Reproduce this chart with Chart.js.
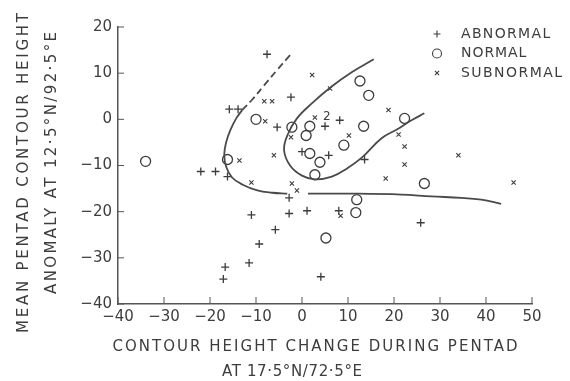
<!DOCTYPE html>
<html>
<head>
  <title>Contour height change vs anomaly</title>
  <script src="https://cdn.jsdelivr.net/npm/chart.js"></script>
  <style>
    body { margin: 0; background: #fff; }
  </style>
</head>
<body>
  <canvas id="myChart" width="570" height="381"></canvas>

  <script>
    // axis ranges (ticks every 10)
    const xMin = -40, xMax = 50;
    const yMin = -40, yMax = 20;

    // ABNORMAL (+)
    const abnormalX = [-7.6, -15.8, -13.9, -2.4, -5.4, 5.0, 8.2, 0.0, 5.8, 13.6, -22.0, -18.8, -16.2, -2.8, -11.0, -2.8, 1.1, 8.0, -5.8, -9.3, -11.5, -16.7, -17.1, 4.1, 25.8];
    const abnormalY = [14.1, 2.2, 2.2, 4.8, -1.7, -1.5, -0.2, -7.0, -7.8, -8.7, -11.3, -11.3, -12.4, -17.0, -20.7, -20.4, -19.8, -19.8, -23.9, -27.0, -31.1, -32.0, -34.6, -34.1, -22.4];

    // NORMAL (o)
    const normalX = [-34.0, -16.2, -10.0, -2.2, 1.7, 0.9, 9.1, 13.4, 12.6, 14.5, 22.3, 1.7, 3.9, 2.8, 11.9, 11.7, 5.2, 26.6];
    const normalY = [-9.1, -8.7, 0.0, -1.7, -1.5, -3.5, -5.6, -1.5, 8.3, 5.2, 0.2, -7.4, -9.3, -12.0, -17.4, -20.2, -25.7, -13.9];

    // SUBNORMAL (x)
    const subnormalX = [-8.2, -6.5, -8.0, 2.2, 6.1, 18.8, 2.8, 10.2, -2.4, 21.0, 22.3, -13.6, -6.1, -11.0, -2.2, -1.1, 18.2, 22.3, 34.0, 46.0, 8.4];
    const subnormalY = [3.9, 3.9, -0.4, 9.6, 6.7, 2.0, 0.4, -3.5, -3.9, -3.3, -5.9, -8.9, -7.8, -13.7, -13.9, -15.4, -12.8, -9.8, -7.8, -13.7, -20.9];

    // hand drawn boundary curves
    const uCurveX = [15.6, 10.8, 6.3, 2.2, -1.1, -3.2, -3.9, -2.6, 0.0, 2.8, 6.5, 9.7, 13.0, 17.3, 21.0, 23.8, 26.6];
    const uCurveY = [13.0, 10.2, 7.0, 3.5, 0.2, -3.5, -6.7, -10.0, -12.2, -13.0, -12.4, -10.7, -8.3, -4.1, -2.0, -0.2, 1.3];
    const dashCurveX = [-2.6, -5.4, -8.2, -10.8, -13.0];
    const dashCurveY = [13.9, 10.7, 7.4, 4.3, 2.0];
    const leftCurveX = [-13.0, -14.3, -15.6, -16.5, -16.9, -16.5, -15.2, -13.0, -9.7, -6.5, -3.2];
    const leftCurveY = [2.0, 0.2, -2.4, -5.0, -7.6, -10.2, -12.6, -14.1, -15.4, -15.9, -16.1];
    const tailCurveX = [1.3, 10.8, 21.6, 28.1, 34.6, 39.0, 43.3];
    const tailCurveY = [-16.1, -16.1, -16.3, -16.7, -17.0, -17.4, -18.3];

    // small count label in the middle of the cluster
    const countLabel = { text: '2', x: 5.4, y: 0.6 };

    const legendItems = [
      { label: 'ABNORMAL', style: 'cross' },
      { label: 'NORMAL', style: 'circle' },
      { label: 'SUBNORMAL', style: 'crossRot' }
    ];

    const ink = '#3d3d3d';
    const fontFamily = '"DejaVu Sans", sans-serif';

    function toPoints(xs, ys) {
      return xs.map((x, i) => ({ x: x, y: ys[i] }));
    }

    function curve(xs, ys, dash) {
      return {
        data: toPoints(xs, ys),
        showLine: true,
        borderColor: '#4a4a4a',
        borderWidth: 1.8,
        borderDash: dash || [],
        pointRadius: 0,
        tension: 0.4,
        fill: false
      };
    }

    function marks(xs, ys, style, radius, width) {
      return {
        data: toPoints(xs, ys),
        pointStyle: style,
        pointRadius: radius,
        pointBorderWidth: width,
        pointBorderColor: ink,
        pointBackgroundColor: 'rgba(0,0,0,0)',
        showLine: false
      };
    }

    // draw text stretched (by letter spacing) to a given width
    function spacedText(ctx, text, cx, cy, width, size, angle) {
      ctx.save();
      ctx.font = size + 'px ' + fontFamily;
      ctx.letterSpacing = '0px';
      const plain = ctx.measureText(text).width;
      const gap = Math.max(0, (width - plain) / (text.length - 1));
      ctx.letterSpacing = gap + 'px';
      ctx.translate(cx, cy);
      ctx.rotate(angle || 0);
      ctx.fillStyle = ink;
      ctx.textAlign = 'left';
      ctx.textBaseline = 'middle';
      ctx.fillText(text, -(plain + gap * (text.length - 1)) / 2, 0);
      ctx.restore();
    }

    const decorPlugin = {
      id: 'decor',
      afterDraw(chart) {
        const ctx = chart.ctx;
        const xs = chart.scales.x, ys = chart.scales.y;
        const area = chart.chartArea;

        // inward tick marks
        ctx.save();
        ctx.strokeStyle = '#555';
        ctx.lineWidth = 1;
        xs.ticks.forEach(t => {
          const px = xs.getPixelForValue(t.value);
          ctx.beginPath();
          ctx.moveTo(px, area.bottom);
          ctx.lineTo(px, area.bottom - 7);
          ctx.stroke();
        });
        ys.ticks.forEach(t => {
          const py = ys.getPixelForValue(t.value);
          ctx.beginPath();
          ctx.moveTo(area.left, py);
          ctx.lineTo(area.left + 6, py);
          ctx.stroke();
        });
        ctx.restore();

        // count label
        ctx.save();
        ctx.font = '12px ' + fontFamily;
        ctx.fillStyle = ink;
        ctx.textAlign = 'center';
        ctx.textBaseline = 'middle';
        ctx.fillText(countLabel.text, xs.getPixelForValue(countLabel.x), ys.getPixelForValue(countLabel.y));
        ctx.restore();

        // axis titles
        spacedText(ctx, 'CONTOUR HEIGHT CHANGE DURING PENTAD', 315, 347, 405, 15, 0);
        spacedText(ctx, 'AT 17·5°N/72·5°E', 292, 372, 140, 15, 0);
        spacedText(ctx, 'MEAN PENTAD CONTOUR HEIGHT', 24, 173, 320, 15, -Math.PI / 2);
        spacedText(ctx, 'ANOMALY AT 12·5°N/92·5°E', 52, 163, 262, 15, -Math.PI / 2);

        // legend
        legendItems.forEach((item, i) => {
          const ly = 34 + i * 19.5;
          ctx.save();
          ctx.strokeStyle = ink;
          ctx.fillStyle = 'rgba(0,0,0,0)';
          ctx.lineWidth = 1.1;
          Chart.helpers.drawPoint(ctx, {
            pointStyle: item.style,
            radius: item.style === 'circle' ? 4.5 : (item.style === 'cross' ? 3.5 : 3),
            borderWidth: 1.1
          }, 437, ly);
          ctx.restore();
          spacedText(ctx, item.label, 458 + (item.label.length * 11.9) / 2, ly, item.label.length * 11.9 - 6, 14, 0);
        });
      }
    };

    const ctx = document.getElementById('myChart').getContext('2d');
    const myChart = new Chart(ctx, {
      type: 'scatter',
      data: {
        datasets: [
          curve(uCurveX, uCurveY),
          curve(dashCurveX, dashCurveY, [7, 4]),
          curve(leftCurveX, leftCurveY),
          curve(tailCurveX, tailCurveY),
          marks(abnormalX, abnormalY, 'cross', 4, 1.3),
          marks(normalX, normalY, 'circle', 5, 1.3),
          marks(subnormalX, subnormalY, 'crossRot', 3, 1.1)
        ]
      },
      options: {
        responsive: false,
        animation: false,
        layout: { padding: { left: 0, right: 38, top: 27, bottom: 0 } },
        plugins: {
          legend: { display: false },
          tooltip: { enabled: false }
        },
        scales: {
          x: {
            min: xMin,
            max: xMax,
            ticks: {
              stepSize: 10,
              padding: 4,
              color: ink,
              font: { family: fontFamily, size: 15 },
              callback: v => v < 0 ? '−' + Math.abs(v) : String(v)
            },
            grid: { display: true, drawOnChartArea: false, drawTicks: false },
            border: { display: true, color: '#555', width: 1.5 },
            afterFit: s => { s.height = 77; }
          },
          y: {
            min: yMin,
            max: yMax,
            ticks: {
              stepSize: 10,
              padding: 6,
              color: ink,
              font: { family: fontFamily, size: 15 },
              callback: v => v < 0 ? '−' + Math.abs(v) : String(v)
            },
            grid: { display: true, drawOnChartArea: false, drawTicks: false },
            border: { display: true, color: '#555', width: 1.5 },
            afterFit: s => { s.width = 118; }
          }
        }
      },
      plugins: [decorPlugin]
    });
  </script>
</body>
</html>
